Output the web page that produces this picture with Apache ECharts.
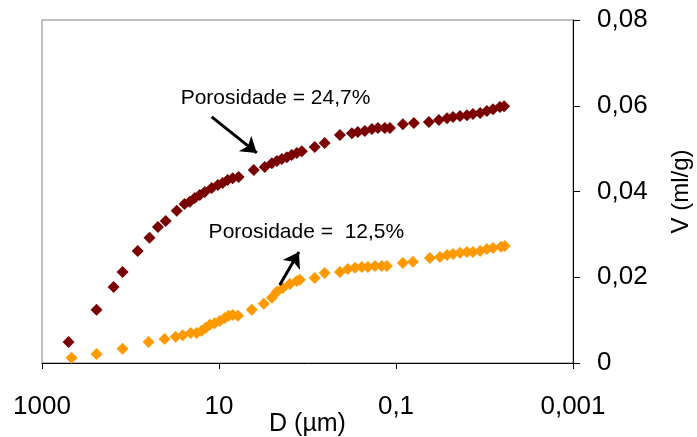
<!DOCTYPE html>
<html>
<head>
<meta charset="utf-8">
<script src="https://cdn.jsdelivr.net/npm/echarts@6/dist/echarts.min.js"></script>
<style>
	html, body { margin: 0; padding: 0; background: #fff; }
	#main { width: 697px; height: 437px; }
</style>
</head>
<body>
<div id="main"></div>
<script>
// diametro (µm) e volume (ml/g) - porosidade 24,7%
var redD = [501, 242, 155, 123, 83, 61, 49, 40, 30, 24.5, 21.4, 18.8, 16.5, 14.5, 12.1, 10.3, 9.1, 8.0, 7.0, 6.0,
	4.05, 3.04, 2.53, 2.22, 1.95, 1.71, 1.51, 1.32, 1.16, 0.83, 0.64, 0.43, 0.315, 0.27, 0.225, 0.187, 0.16, 0.134, 0.117,
	0.0836, 0.0628, 0.0425, 0.0327, 0.0265, 0.0227, 0.0189, 0.0158, 0.0135, 0.0112, 0.0094, 0.008, 0.0067, 0.006];
var redV = [0.0049, 0.0124, 0.0177, 0.0212, 0.0261, 0.0292, 0.0317, 0.0331, 0.0355, 0.0371, 0.0376, 0.0385, 0.0392, 0.0399, 0.0408, 0.0415, 0.0420, 0.0427, 0.0431, 0.0434,
	0.0450, 0.0457, 0.0466, 0.0471, 0.0476, 0.0480, 0.0485, 0.0490, 0.0494, 0.0504, 0.0513, 0.0532, 0.0536, 0.0539, 0.0541, 0.0546, 0.0548, 0.0548, 0.0548,
	0.0557, 0.0560, 0.0562, 0.0567, 0.0571, 0.0574, 0.0576, 0.0578, 0.0581, 0.0583, 0.0588, 0.0592, 0.0597, 0.0599];

// porosidade 12,5%
var orangeD = [463, 242, 123, 62.5, 41.2, 30.9, 25.7, 20.9, 17.9, 15.7, 14.1, 12.7, 11.2, 9.8, 8.6, 7.8, 7.0, 6.1,
	4.26, 3.12, 2.53, 2.22, 1.9, 1.58, 1.32, 1.22, 0.83, 0.64, 0.43, 0.35, 0.29, 0.243, 0.208, 0.173, 0.145, 0.127,
	0.0836, 0.0644, 0.0414, 0.0319, 0.0265, 0.0227, 0.0189, 0.0158, 0.0135, 0.0112, 0.0094, 0.008, 0.0065, 0.0059];
var orangeV = [0.0012, 0.0021, 0.0033, 0.0049, 0.0056, 0.0061, 0.0065, 0.0070, 0.0070, 0.0075, 0.0082, 0.0089, 0.0093, 0.0098, 0.0105, 0.0110, 0.0112, 0.0110,
	0.0124, 0.0138, 0.0152, 0.0166, 0.0175, 0.0184, 0.0191, 0.0194, 0.0198, 0.0210, 0.0212, 0.0219, 0.0222, 0.0224, 0.0224, 0.0226, 0.0226, 0.0226,
	0.0233, 0.0236, 0.0245, 0.0247, 0.0252, 0.0254, 0.0257, 0.0259, 0.0259, 0.0261, 0.0266, 0.0268, 0.0271, 0.0273];

// eixos
var xTicks = [1000, 10, 0.1, 0.001];
var yTicks = [0, 0.02, 0.04, 0.06, 0.08];

// anotacoes: texto e seta (D, V)
var labelTexts = ['Porosidade = 24,7%', 'Porosidade =  12,5%'];
var labelPos = [[27.1, 0.0618], [13.1, 0.0306]];
var arrowFrom = [[12.1, 0.0574], [2.06, 0.0182]];
var arrowTo = [[3.74, 0.0490], [1.25, 0.0259]];

var FONT = "'Liberation Sans', Arial, sans-serif";

function pts(d, v) {
	return d.map(function (x, i) { return [Math.log10(x), v[i]]; });
}
function lg(p) {
	return [Math.log10(p[0]), p[1]];
}
function fmtNum(v, dec) {
	return v.toFixed(dec).replace('.', ',');
}

var xMin = Math.log10(xTicks[xTicks.length - 1]);
var xMax = Math.log10(xTicks[0]);
var xStep = Math.log10(xTicks[0]) - Math.log10(xTicks[1]);

function annot(i) {
	return {
		markLine: {
			silent: true,
			symbol: ['none', 'arrow'],
			symbolSize: 15,
			lineStyle: { color: '#000', width: 3, type: 'solid' },
			label: { show: false },
			data: [[{ coord: lg(arrowFrom[i]) }, { coord: lg(arrowTo[i]) }]]
		},
		markPoint: {
			silent: true,
			symbol: 'circle',
			symbolSize: 0,
			label: {
				show: true,
				position: 'right',
				distance: 0,
				color: '#000',
				fontSize: 21,
				fontFamily: FONT,
				formatter: labelTexts[i]
			},
			data: [{ coord: lg(labelPos[i]) }]
		}
	};
}

var myChart = echarts.init(document.getElementById('main'));
var option = {
	animation: false,
	backgroundColor: '#fff',
	grid: {
		left: 42,
		right: 124,
		top: 20,
		bottom: 74,
		containLabel: false,
		outerBoundsMode: 'none',
		show: true,
		borderColor: '#808080',
		borderWidth: 1
	},
	xAxis: {
		type: 'value',
		inverse: true,
		min: xMin,
		max: xMax,
		interval: xStep,
		name: 'D (µm)',
		nameLocation: 'middle',
		nameGap: 49,
		nameMoveOverlap: false,
		nameTextStyle: { color: '#000', fontSize: 25, fontFamily: FONT },
		axisLine: { lineStyle: { color: '#000', width: 1 } },
		axisTick: { inside: false, length: 6, lineStyle: { color: '#000' } },
		splitLine: { show: false },
		axisLabel: {
			color: '#000',
			fontSize: 26,
			fontFamily: FONT,
			margin: 31,
			formatter: function (v) {
				var dec = v < 0 ? Math.round(-v) : 0;
				return fmtNum(Math.pow(10, v), dec);
			}
		}
	},
	yAxis: {
		type: 'value',
		position: 'right',
		min: yTicks[0],
		max: yTicks[yTicks.length - 1],
		interval: yTicks[1] - yTicks[0],
		name: 'V (ml/g)',
		nameLocation: 'middle',
		nameRotate: 90,
		nameGap: 96,
		nameMoveOverlap: false,
		nameTextStyle: { color: '#000', fontSize: 24, fontFamily: FONT },
		axisLine: { show: true, onZero: false, lineStyle: { color: '#000', width: 1 } },
		axisTick: { show: true, inside: false, length: 7, lineStyle: { color: '#000' } },
		splitLine: { show: false },
		axisLabel: {
			color: '#000',
			fontSize: 26,
			fontFamily: FONT,
			margin: 24,
			formatter: function (v) {
				return v === 0 ? '0' : fmtNum(v, 2);
			}
		}
	},
	series: [
		Object.assign({
			name: 'Porosidade 24,7%',
			type: 'scatter',
			symbol: 'diamond',
			symbolSize: 12,
			itemStyle: { color: '#7B0000', opacity: 1 },
			data: pts(redD, redV)
		}, annot(0)),
		Object.assign({
			name: 'Porosidade 12,5%',
			type: 'scatter',
			symbol: 'diamond',
			symbolSize: 12,
			itemStyle: { color: '#FF9900', opacity: 1 },
			data: pts(orangeD, orangeV)
		}, annot(1))
	]
};
myChart.setOption(option);
</script>
</body>
</html>
